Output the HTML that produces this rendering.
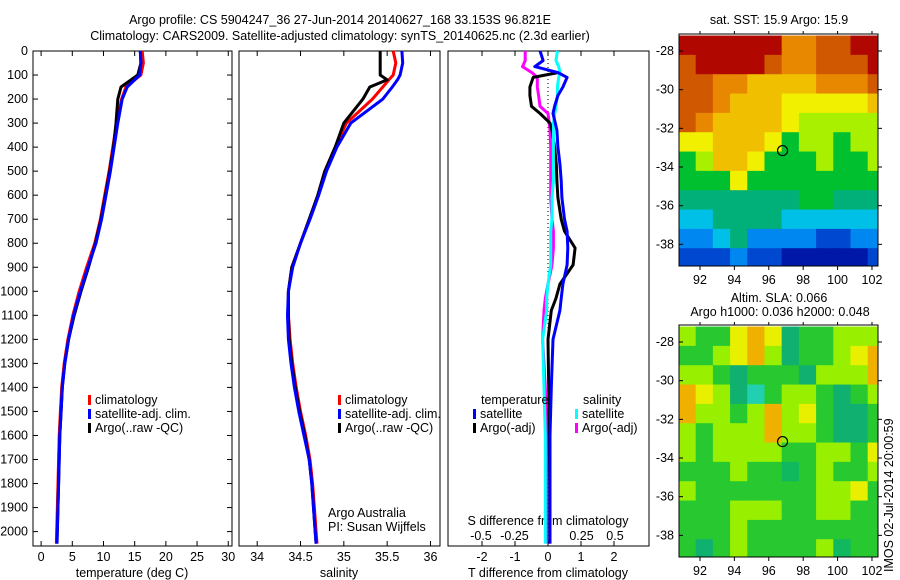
<!DOCTYPE html>
<html><head><meta charset="utf-8"><style>
body{margin:0;background:#fff}
svg{display:block;font-family:"Liberation Sans",sans-serif;font-size:12.5px}
</style></head><body>
<svg id="s" width="900" height="580"></svg>
<script>
// ---------- data ----------
const depthT=[0,50,100,150,200,300,400,500,600,700,800,900,1000,1100,1200,1300,1400,1500,1600,1800,2000,2050];
const tempClim=[16.2,16.4,16.0,13.6,12.9,12.1,11.5,10.9,10.2,9.5,8.6,7.3,6.1,5.1,4.3,3.7,3.3,3.1,2.9,2.7,2.5,2.45];
const tempSat=[15.9,16.0,15.8,13.8,13.0,12.3,11.7,11.1,10.4,9.7,8.8,7.5,6.3,5.2,4.4,3.8,3.4,3.2,3.0,2.8,2.6,2.55];
const tempArgo=[15.9,16.0,15.5,12.8,12.3,12.0,11.6,11.0,10.3,9.6,8.7,7.6,6.4,5.3,4.4,3.8,3.4,3.2,3.0,2.8,2.6,2.55];
const depthS=[0,50,100,120,150,200,300,400,500,600,700,800,900,1000,1100,1200,1300,1400,1500,1600,1700,1800,1900,2000,2050];
const salClim=[35.57,35.6,35.57,35.52,35.45,35.33,35.03,34.9,34.78,34.7,34.6,34.5,34.4,34.36,34.36,34.38,34.41,34.45,34.5,34.56,34.61,34.64,34.66,34.68,34.69];
const salSat=[35.67,35.68,35.65,35.62,35.56,35.45,35.08,34.92,34.8,34.71,34.61,34.5,34.41,34.36,34.35,34.36,34.39,34.43,34.48,34.54,34.6,34.63,34.65,34.67,34.68];
const salArgo=[35.42,35.42,35.42,35.5,35.3,35.22,35.0,34.9,34.78,34.7,34.6,34.5,34.4,34.36,34.36,34.37,34.4,34.44,34.49,34.55,34.6,34.63,34.65,34.67,34.68];
const depthD=[0,40,65,90,110,150,185,230,260,300,330,400,470,540,610,700,750,820,890,970,1030,1080,1200,1400,1600,1800,2050];
const tDiffSat=[-0.24,-0.15,-0.4,0.3,0.58,0.45,0.3,0.2,0.15,0.22,0.27,0.3,0.36,0.4,0.42,0.5,0.58,0.6,0.58,0.45,0.4,0.36,0.15,0.1,0.06,0.06,0.06];
const tDiffArgo=[null,null,null,0.3,-0.45,-0.55,-0.55,-0.5,-0.24,0.06,0.12,0.2,0.25,0.27,0.3,0.4,0.5,0.82,0.76,0.36,0.24,0.1,0.0,0.02,0.04,0.05,0.05];
const sDiffSat=[0.07,0.06,0.08,0.09,0.08,0.07,0.07,0.06,0.05,0.04,0.04,0.04,0.04,0.04,0.03,0.03,0.02,0.02,0.02,0.0,-0.01,-0.01,-0.04,-0.03,-0.02,-0.02,-0.02];
const sDiffArgo=[-0.17,-0.17,-0.19,-0.12,-0.08,-0.08,-0.07,-0.06,0.0,0.01,0.015,0.02,0.02,0.02,0.02,0.03,0.04,0.04,0.03,0.0,-0.02,-0.03,-0.04,-0.02,-0.01,-0.01,-0.01];
const depthTicks=[0,100,200,300,400,500,600,700,800,900,1000,1100,1200,1300,1400,1500,1600,1700,1800,1900,2000];
const tempTicks=[0,5,10,15,20,25,30];
const salTicks=[34,34.5,35,35.5,36];
const salTickLabels=["34","34.5","35","35.5","36"];
const tdTicks=[-2,-1,0,1,2];
const sdTicks=[-0.5,-0.25,0,0.25,0.5];
const sdTickLabels=["-0.5","-0.25","0","0.25","0.5"];
const latTicks=[-28,-30,-32,-34,-36,-38];
const lonTicks=[92,94,96,98,100,102];
const mapLons=[91.25,92.25,93.25,94.25,95.25,96.25,97.25,98.25,99.25,100.25,101.25,102.25];
const mapLats=[-27.7,-28.7,-29.7,-30.7,-31.7,-32.7,-33.7,-34.7,-35.7,-36.7,-37.7,-38.7];
const sstGrid=[
[9,9,9,9,9,9,7,7,8,8,9,9],
[8,9,9,9,9,8,7,7,8,8,8,9],
[8,8,7,7,6,6,6,6,7,7,7,8],
[8,8,7,6,6,6,5,5,5,5,5,6],
[8,7,6,6,6,6,5,4,4,4,4,4],
[5,5,6,6,6,5,3,4,4,3,4,4],
[3,4,6,6,5,3,3,3,4,3,3,4],
[3,3,3,5,3,3,3,3,3,3,3,3],
[2,2,2,2,2,2,2,3,3,2,2,2],
[1.5,1.5,2,2,2,2,1.5,1.5,1.5,1.5,1.5,1.5],
[1,1,1.5,2,1,1,1,1,0.5,0.5,1,1],
[0.5,0.5,0.5,1,0.5,0.5,0,0,0,0,0,0.5]];
const slaGrid=[
[4,3,3,5,6,5,2,3,3,4,4,4],
[3,3,4,5,6,4,2,3,3,4,5,6],
[4,4,3,2,3,3,3,2,4,4,4,6],
[6,5,4,2,1.5,3,4,4,3,2,3,4],
[6,4,4,3,4,6,4,5,3,2,2,3],
[4,3,4,4,4,6,4,4,3,2,2,3],
[4,3,4,4,4,4,3,3,4,4,3,5],
[3,3,3,4,3,3,2.5,3,4,3,3,4],
[4,3,3,3,3,3,3,3,4,4,5,3],
[3,3,3,4,4,4,3,3,4,4,3,3],
[3,3,3,4,3,3,3,3,3,3,3,3],
[3,2,3,4,3,3,3,3,4,2.5,3,3]];
const argoLon=96.8, argoLat=-33.15;
// ---------- drawing ----------
const S=document.getElementById('s');const NS='http://www.w3.org/2000/svg';
function el(t,a,p){const e=document.createElementNS(NS,t);for(const k in a)e.setAttribute(k,a[k]);(p||S).appendChild(e);return e;}
function txt(x,y,s,anchor,name,extra){const e=el('text',Object.assign({x:x,y:y,'text-anchor':anchor||'start'},extra||{}));e.textContent=s;


return e;}
const Y=d=>51+d*0.2403;
const P1={l:33,r:232,min:-1.3,max:30.6}, P2={l:239,r:440,min:33.79,max:36.11}, P3={l:448,r:649,min:-3.03,max:3.06};
const X=(P,v)=>P.l+(v-P.min)/(P.max-P.min)*(P.r-P.l);
const XS=v=>548+v*134;
function line(xs,ys,f,col,name){let d='',pen=false;for(let i=0;i<xs.length;i++){if(xs[i]===null){pen=false;continue;}d+=(pen?'L':'M')+f(xs[i]).toFixed(1)+','+Y(ys[i]).toFixed(1);pen=true;}
const p=el('path',{d:d,fill:'none',stroke:col,'stroke-width':3,'stroke-linejoin':'round'});

}
// titles
txt(340,24,'Argo profile: CS 5904247_36 27-Jun-2014 20140627_168 33.153S 96.821E','middle','title-line-1');
txt(340,40,'Climatology: CARS2009. Satellite-adjusted climatology: synTS_20140625.nc (2.3d earlier)','middle','title-line-2');
// frames
[P1,P2,P3].forEach((P,i)=>{const r=el('rect',{x:P.l,y:51,width:P.r-P.l,height:495,fill:'none',stroke:'#000','stroke-width':1});

});
// depth ticks
depthTicks.forEach(d=>{el('line',{x1:33,x2:38,y1:Y(d),y2:Y(d),stroke:'#000'});el('line',{x1:227,x2:232,y1:Y(d),y2:Y(d),stroke:'#000'});
txt(28,Y(d)+4,String(d),'end','depth-tick-label');});
// temp ticks
tempTicks.forEach(v=>{const x=X(P1,v);el('line',{x1:x,x2:x,y1:546,y2:541,stroke:'#000'});el('line',{x1:x,x2:x,y1:51,y2:56,stroke:'#000'});
txt(x,561,String(v),'middle','temperature-tick-label');});
txt(132,577,'temperature (deg C)','middle','x-axis-title-temperature');
salTicks.forEach((v,i)=>{const x=X(P2,v);el('line',{x1:x,x2:x,y1:546,y2:541,stroke:'#000'});el('line',{x1:x,x2:x,y1:51,y2:56,stroke:'#000'});
txt(x,561,salTickLabels[i],'middle','salinity-tick-label');});
txt(339,577,'salinity','middle','x-axis-title-salinity');
tdTicks.forEach(v=>{const x=X(P3,v);el('line',{x1:x,x2:x,y1:546,y2:541,stroke:'#000'});el('line',{x1:x,x2:x,y1:51,y2:56,stroke:'#000'});
txt(x,561,String(v),'middle','t-diff-tick-label');});
txt(548,577,'T difference from climatology','middle','x-axis-title-t-diff');
sdTicks.forEach((v,i)=>{txt(XS(v),540,sdTickLabels[i],'middle','s-diff-tick-label');});
txt(548,525,'S difference from climatology','middle','s-diff-axis-title');
el('line',{x1:548,x2:548,y1:51,y2:546,stroke:'#000','stroke-dasharray':'1,3'});
// series
line(tempClim,depthT,v=>X(P1,v),'#f00','temp-climatology-line');
line(tempArgo,depthT,v=>X(P1,v),'#000','temp-argo-line');
line(tempSat,depthT,v=>X(P1,v),'#00f','temp-satellite-line');
line(salClim,depthS,v=>X(P2,v),'#f00','sal-climatology-line');
line(salArgo,depthS,v=>X(P2,v),'#000','sal-argo-line');
line(salSat,depthS,v=>X(P2,v),'#00f','sal-satellite-line');
line(sDiffArgo,depthD,XS,'#f0f','s-diff-argo-line');
line(tDiffArgo,depthD,v=>X(P3,v),'#000','t-diff-argo-line');
line(sDiffSat,depthD,XS,'#0ff','s-diff-satellite-line');
line(tDiffSat,depthD,v=>X(P3,v),'#00f','t-diff-satellite-line');
// legends
function leg(x,y,col,label,name){el('rect',{x:x,y:y-9,width:3,height:10,fill:col});txt(x+7,y,label,'start',name);}
leg(88,404,'#f00','climatology','legend-climatology');leg(88,418,'#00f','satellite-adj. clim.','legend-satellite-adj');leg(88,432,'#000','Argo(..raw -QC)','legend-argo-raw');
leg(338,404,'#f00','climatology','legend-climatology-2');leg(338,418,'#00f','satellite-adj. clim.','legend-satellite-adj-2');leg(338,432,'#000','Argo(..raw -QC)','legend-argo-raw-2');
txt(481,404,'temperature','start','legend-title-temperature');txt(583,404,'salinity','start','legend-title-salinity');
leg(473,418,'#00f','satellite','legend-t-satellite');leg(473,432,'#000','Argo(-adj)','legend-t-argo');
leg(575,418,'#0ff','satellite','legend-s-satellite');leg(575,432,'#f0f','Argo(-adj)','legend-s-argo');
txt(328,517,'Argo Australia','start','credit-argo-australia');txt(328,531,'PI: Susan Wijffels','start','credit-pi');
// maps
const sstCols={0:'#0018a8',0.5:'#0048d0',1:'#0088f0',1.5:'#00c0e8',2:'#00b078',3:'#00c030',4:'#a8f000',5:'#f0f000',6:'#f0c000',7:'#e88800',8:'#d05800',9:'#b00800'};
const slaCols={1.5:'#20d0b0',2:'#10b070',2.5:'#10b860',3:'#28c830',4:'#98f000',5:'#e8f000',6:'#f0b000'};
function map(top,grid,cols,name){const L=679,R=878,B=top+232;
const lx=v=>L+(v-90.78)/(102.35-90.78)*(R-L), ly=v=>top+(v-(-27.12))/(-39.12-(-27.12))*232;
const g=el('g',{});
grid.forEach((row,i)=>row.forEach((v,j)=>{const x0=Math.max(L,lx(mapLons[j]-0.5)),x1=Math.min(R,lx(mapLons[j]+0.5)),y0=Math.max(top,ly(mapLats[i]+0.5)),y1=Math.min(B,ly(mapLats[i]-0.5));
el('rect',{x:x0,y:y0,width:x1-x0+0.5,height:y1-y0+0.5,fill:cols[v]},g);}));
el('rect',{x:L,y:top,width:R-L,height:232,fill:'none',stroke:'#000'});
latTicks.forEach(v=>{el('line',{x1:L,x2:L+4,y1:ly(v),y2:ly(v),stroke:'#000'});el('line',{x1:R,x2:R+4,y1:ly(v),y2:ly(v),stroke:'#000'});txt(674,ly(v)+4,String(v),'end','lat-tick-label');});
lonTicks.forEach(v=>{el('line',{x1:lx(v),x2:lx(v),y1:B,y2:B+4,stroke:'#000'});el('line',{x1:lx(v),x2:lx(v),y1:top,y2:top-3,stroke:'#000'});txt(lx(v),B+18,String(v),'middle','lon-tick-label');});
const c=el('circle',{cx:lx(argoLon),cy:ly(argoLat),r:5,fill:'none',stroke:'#000','stroke-width':1.2});
}
map(34,sstGrid,sstCols,'sst-map');
map(325,slaGrid,slaCols,'sla-map');
txt(779,24,'sat. SST: 15.9 Argo: 15.9','middle','sst-map-title');
txt(779,302,'Altim. SLA: 0.066','middle','sla-map-title-1');
txt(780,316,'Argo h1000: 0.036 h2000: 0.048','middle','sla-map-title-2');
txt(0,0,'IMOS 02-Jul-2014 20:00:59','start','imos-timestamp',{transform:'translate(893,572) rotate(-90)'});
</script>
</body></html>
